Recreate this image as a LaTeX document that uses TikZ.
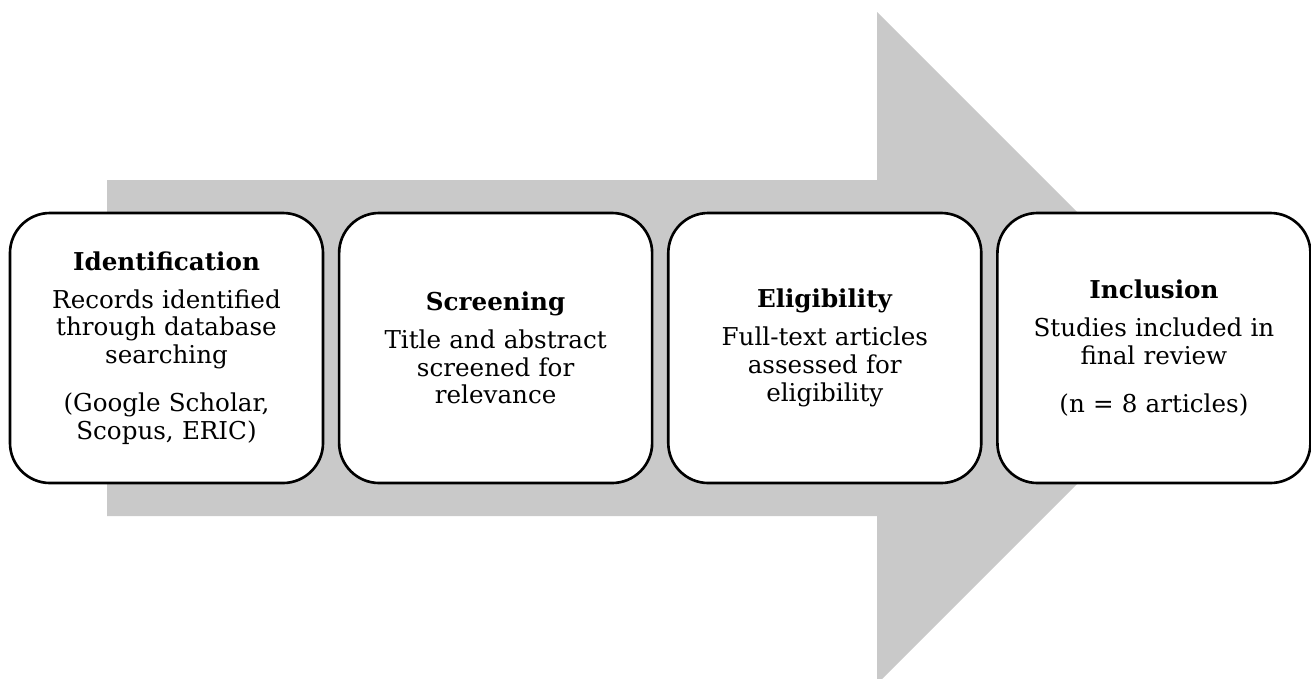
\documentclass[tikz,border=0pt]{standalone}
\usepackage{fontspec}
\setmainfont{DejaVu Serif}
\usetikzlibrary{positioning}
\definecolor{arrowgray}{RGB}{201,201,201}
\begin{document}
\begin{tikzpicture}[
    stage/.style={draw=black, line width=1.5pt, rounded corners=0.8cm,
                  fill=white, minimum width=6.26cm, minimum height=5.4cm,
                  text width=5.8cm, align=center, text=black,
                  font=\fontsize{14}{15.8}\selectfont}]
	\useasboundingbox (0,0) rectangle (26.22,-13.56);
	\clip (0,0) rectangle (26.22,-13.56);
	% big grey arrow behind the stages
	\fill[arrowgray] (2.14,-3.60) -- (17.54,-3.60) -- (17.54,-0.24)
	    -- (24.26,-6.96) -- (17.54,-13.68) -- (17.54,-10.32)
	    -- (2.14,-10.32) -- cycle;
	% stages
	\node[stage] (ident) at (3.33,-6.96)
	    {\textbf{Identification}\\[0.2cm]
	     Records identified\\ through database\\ searching\\[0.4cm]
	     (Google Scholar,\\ Scopus, ERIC)};
	\node[stage, right=0.27cm of ident] (screen)
	    {\textbf{Screening}\\[0.2cm]
	     Title and abstract\\ screened for\\ relevance};
	\node[stage, right=0.27cm of screen] (elig)
	    {\textbf{Eligibility}\\[0.2cm]
	     Full-text articles\\ assessed for\\ eligibility};
	\node[stage, right=0.27cm of elig] (incl)
	    {\textbf{Inclusion}\\[0.2cm]
	     Studies included in\\ final review\\[0.4cm]
	     (n = 8 articles)};
\end{tikzpicture}
\end{document}
